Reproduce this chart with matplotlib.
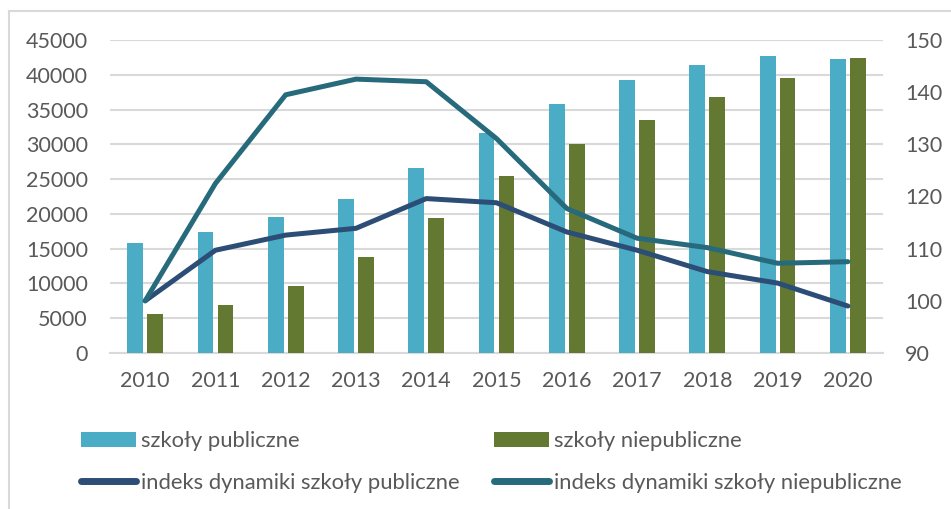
import matplotlib
matplotlib.use("Agg")
import matplotlib.pyplot as plt
import numpy as np

plt.rcParams['font.family'] = ['Lato', 'DejaVu Sans']

years = ['2010', '2011', '2012', '2013', '2014', '2015', '2016', '2017', '2018', '2019', '2020']
publiczne = [15800, 17350, 19550, 22200, 26650, 31600, 35800, 39250, 41400, 42750, 42200]
niepubliczne = [5600, 6900, 9650, 13750, 19450, 25500, 30000, 33500, 36850, 39500, 42450]
indeks_publ = [100, 109.7, 112.6, 113.9, 119.6, 118.8, 113.2, 109.7, 105.6, 103.4, 99.0]
indeks_niepubl = [100, 122.5, 139.5, 142.5, 142.0, 131.1, 117.7, 112.0, 110.2, 107.2, 107.5]

c_publ = '#4BACC6'
c_niepubl = '#637831'
c_ind_publ = '#2C4D75'
c_ind_niepubl = '#276A7C'
txt = '#595959'
grid = '#D9D9D9'

fig = plt.figure(figsize=(9.51, 5.09), dpi=100)
ax = fig.add_axes([0.1157, 0.3065, 0.8128, 0.6149])
ax2 = ax.twinx()
ax.set_zorder(1)
ax2.set_zorder(2)
ax.patch.set_visible(False)

x = np.arange(len(years))
w = 0.225
b1 = ax.bar(x - 0.142, publiczne, w, color=c_publ, zorder=3)
b2 = ax.bar(x + 0.142, niepubliczne, w, color=c_niepubl, zorder=3)

l1, = ax2.plot(x, indeks_publ, color=c_ind_publ, lw=3.6, solid_capstyle='round',
               solid_joinstyle='round')
l2, = ax2.plot(x, indeks_niepubl, color=c_ind_niepubl, lw=3.6, solid_capstyle='round',
               solid_joinstyle='round')

ax.set_xlim(-0.5, len(years) - 0.5)
ax.set_ylim(0, 45000)
ax.set_yticks(range(0, 45001, 5000))
ax2.set_ylim(90, 150)
ax2.set_yticks(range(90, 151, 10))
ax.set_xticks(x)
ax.set_xticklabels(years)

ax.yaxis.grid(True, color=grid, lw=1.5, zorder=0)
ax.set_axisbelow(True)
for a in (ax, ax2):
    for s in a.spines.values():
        s.set_visible(False)
ax.spines['bottom'].set_visible(True)
ax.spines['bottom'].set_color(grid)
ax.spines['bottom'].set_linewidth(1.5)

ax.tick_params(axis='both', length=0, labelsize=15.5, colors=txt)
ax.tick_params(axis='y', pad=16)
ax.tick_params(axis='x', pad=13)
ax2.tick_params(axis='y', length=0, labelsize=15.5, colors=txt, pad=16)

# column-wise filling: col1 = publiczne items, col2 = niepubliczne items
leg = fig.legend([b1, l1, b2, l2],
                 ['szkoły publiczne', 'indeks dynamiki szkoły publiczne',
                  'szkoły niepubliczne', 'indeks dynamiki szkoły niepubliczne'],
                 ncol=2, loc='upper left', bbox_to_anchor=(0.074, 0.175),
                 frameon=False, fontsize=15.8, handlelength=2.5, handletextpad=0.2,
                 columnspacing=1.6, labelspacing=1.0, borderpad=0)
for t in leg.get_texts():
    t.set_color(txt)
for h in leg.legend_handles[1::2]:
    h.set_linewidth(5)

# light frame around chart area
fig.add_artist(plt.Line2D([9 / 951, 9 / 951], [0, 1 - 11 / 509], transform=fig.transFigure, color=grid, lw=1.5))
fig.add_artist(plt.Line2D([9 / 951, 1], [1 - 11 / 509, 1 - 11 / 509], transform=fig.transFigure, color=grid, lw=1.5))

fig.savefig('out.png', dpi=100)
